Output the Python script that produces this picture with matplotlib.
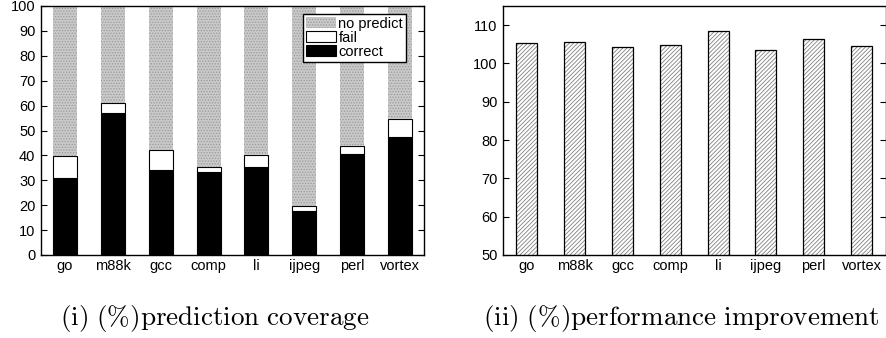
import matplotlib
matplotlib.use("Agg")
import matplotlib.pyplot as plt
import numpy as np

categories = ["go", "m88k", "gcc", "comp", "li", "ijpeg", "perl", "vortex"]
correct = [31.1, 57.0, 34.1, 33.3, 35.4, 17.6, 40.6, 47.5]
fail = [8.7, 4.2, 7.9, 1.9, 4.6, 1.9, 3.0, 7.0]
no_predict = [100 - c - f for c, f in zip(correct, fail)]
improvement = [105.3, 105.7, 104.4, 104.9, 108.6, 103.5, 106.5, 104.6]

plt.rcParams['font.family'] = ['Liberation Sans', 'DejaVu Sans']
plt.rcParams['mathtext.fontset'] = 'cm'
plt.rcParams['hatch.linewidth'] = 0.6

fig = plt.figure(figsize=(8.87, 3.38), dpi=100)
ax1 = fig.add_axes([41/887, 1-255/338, (424-41)/887, (255-6)/338])
ax2 = fig.add_axes([503/887, 1-255/338, (885.5-503)/887, (255-6)/338])

x = np.arange(len(categories))
w = 0.5
ax1.bar(x, correct, w, color='black', edgecolor='black', lw=0.8, label='correct')
ax1.bar(x, fail, w, bottom=correct, color='white', edgecolor='black', lw=0.8, label='fail')
bot2 = [c + f for c, f in zip(correct, fail)]
ax1.bar(x, no_predict, w, bottom=bot2, color='#c9c9c9', edgecolor='#9a9a9a', hatch='......', lw=0.0, label='no predict')
ax1.set_xlim(-0.5, 7.5)
ax1.set_ylim(0, 100)
ax1.set_yticks(range(0, 101, 10))
ax1.set_xticks(x)
ax1.set_xticklabels(categories)
h, l = ax1.get_legend_handles_labels()
leg = ax1.legend(h[::-1], l[::-1], loc='upper right', bbox_to_anchor=(0.953, 0.968),
                 fontsize=10.5, frameon=True, fancybox=False, edgecolor='black',
                 framealpha=1, borderpad=0.2, labelspacing=0.0, handlelength=2.0,
                 handleheight=0.75, handletextpad=0.2, borderaxespad=0)
leg.get_frame().set_linewidth(1.0)

ax2.bar(x, improvement, 0.44, color='white', edgecolor='#808080', hatch='////////', lw=0)
ax2.bar(x, improvement, 0.44, fill=False, edgecolor='black', lw=0.9)
ax2.set_xlim(-0.5, 7.5)
ax2.set_ylim(50, 115)
ax2.set_yticks(range(50, 111, 10))
ax2.set_xticks(x)
ax2.set_xticklabels(categories)

for ax in (ax1, ax2):
    ax.tick_params(axis='y', direction='in', right=True, length=4, labelsize=10.5, pad=4)
    ax.tick_params(axis='x', length=0, labelsize=10.5, pad=3)
    for s in ax.spines.values():
        s.set_linewidth(1.0)

fig.text(215/887, 1-318/338, r'$\mathrm{(i)\ (\%)prediction\ coverage}$', ha='center', va='center', fontsize=19.5)
fig.text(681/887, 1-318/338, r'$\mathrm{(ii)\ (\%)performance\ improvement}$', ha='center', va='center', fontsize=19.5)

fig.savefig('out.png', dpi=100)
